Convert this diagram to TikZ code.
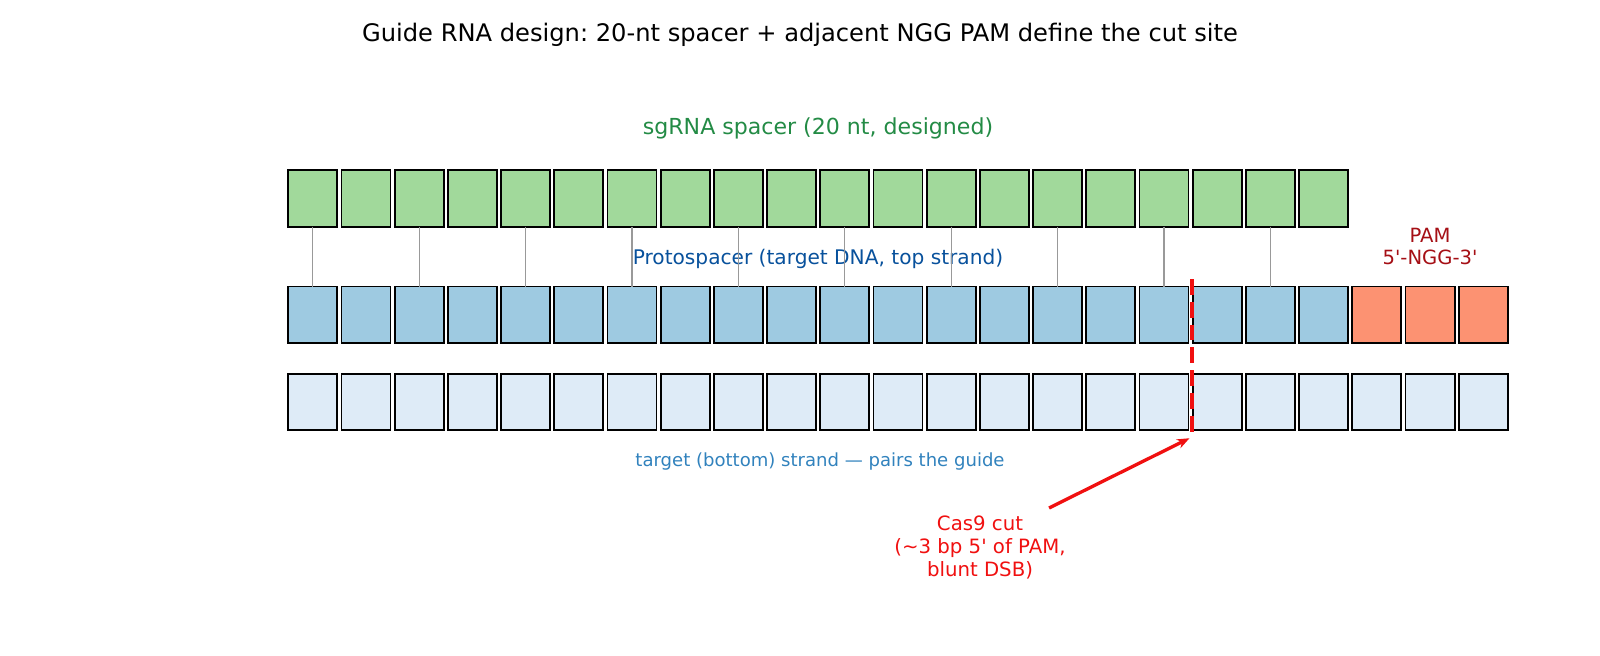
\documentclass[tikz,border=0pt]{standalone}
\usepackage{fontspec}
\setmainfont{DejaVu Sans}[Ligatures=TeXOff]
\usepackage{xcolor}
\usepackage{tikz}
\usetikzlibrary{arrows.meta,positioning}

\definecolor{guidefill}{HTML}{A1D99B}
\definecolor{protofill}{HTML}{9ECAE1}
\definecolor{targfill}{HTML}{DEEBF7}
\definecolor{pamfill}{HTML}{FC9272}
\definecolor{guidetxt}{HTML}{238B45}
\definecolor{prototxt}{HTML}{08519C}
\definecolor{pamtxt}{HTML}{A50F15}
\definecolor{targtxt}{HTML}{3182BD}
\definecolor{cutred}{HTML}{F01010}

\begin{document}
\frenchspacing
\begin{tikzpicture}[
  x=0.72pt,y=-0.72pt,
  nt/.style={draw=black,line width=1.4pt,minimum width=35.3pt,minimum height=40.6pt,inner sep=0pt,outer sep=0pt},
  g/.style={nt,fill=guidefill},
  p/.style={nt,fill=protofill},
  pam/.style={nt,fill=pamfill},
  b/.style={nt,fill=targfill},
  pair/.style={draw=black!40,line width=0.8pt},
  lbl/.style={inner sep=0pt,align=center},
  a/.style={-{Stealth[length=9pt,width=7pt]},line width=2.4pt,draw=cutred}
]
\useasboundingbox (0,0) rectangle (1600,655);

\node[lbl,font=\fontsize{17.4}{21}\selectfont] (title) at (800,35)
  {Guide RNA design: 20-nt spacer + adjacent NGG PAM define the cut site};

% guide, protospacer + PAM, target strand
\foreach \i in {0,...,19}
  \node[g] (g\i) at ({312.8+53.2*\i},198.5) {};
\foreach \i in {0,...,19}
  \node[p] (p\i) at ({312.8+53.2*\i},314.7) {};
\foreach \i in {20,21,22}
  \node[pam] (p\i) at ({312.8+53.2*\i},314.7) {};
\foreach \i in {0,...,22}
  \node[b] (b\i) at ({312.8+53.2*\i},401.8) {};

\node[lbl,text=guidetxt,font=\fontsize{15.9}{19}\selectfont] (glbl) at (818,128)
  {sgRNA spacer (20 nt, designed)};
\node[lbl,text=prototxt,font=\fontsize{14.5}{17}\selectfont] (plbl) at (818,259)
  {Protospacer (target DNA, top strand)};
\node[lbl,text=pamtxt,font=\fontsize{14.1}{16.2}\selectfont] (pamlbl) at (1430,246.5)
  {PAM\\5'-NGG-3'};
\node[lbl,text=targtxt,font=\fontsize{13}{16}\selectfont] (blbl) at (820,462)
  {target (bottom) strand — pairs the guide};

% base pairing ticks
\foreach \i in {0,2,...,18}
  \draw[pair] (g\i.south) -- (p\i.north);

% cut site
\coordinate (cuttop) at (1192,279);
\coordinate (cutbot) at (1192,437);
\draw[cutred,line width=3.1pt,dash pattern=on 11.4pt off 5pt] (cuttop) -- (cutbot);

\node[lbl,text=cutred,font=\fontsize{14.2}{16.5}\selectfont] (cas) at (980,547.5)
  {Cas9 cut\\(\textasciitilde 3 bp 5' of PAM,\\blunt DSB)};
\coordinate (tail) at (1049,508);
\draw[a,shorten >=2pt] (tail) -- (cutbot);
\end{tikzpicture}
\end{document}
